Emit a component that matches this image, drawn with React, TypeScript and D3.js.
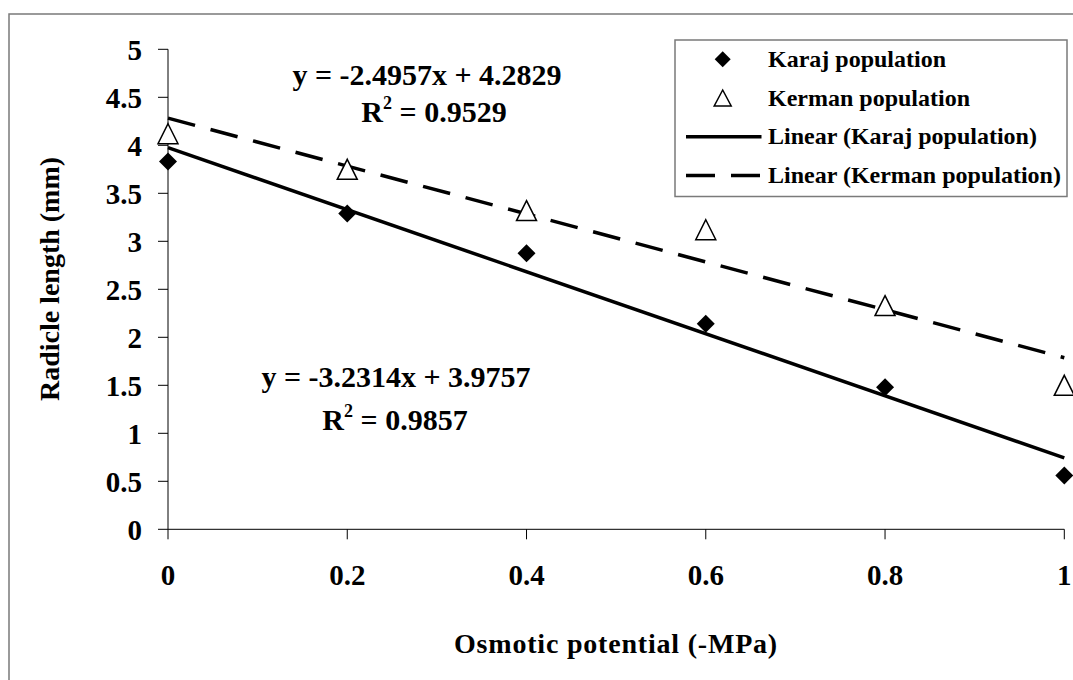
import * as d3 from 'd3'
import React from 'react'

// osmotic potential (-MPa)
const potentials = [0, 0.2, 0.4, 0.6, 0.8, 1]
// radicle length (mm)
const karaj = [3.83, 3.29, 2.875, 2.14, 1.48, 0.56]
const kerman = [4.12, 3.75, 3.32, 3.12, 2.33, 1.5]

// linear trendlines [slope, intercept]
const karajFit = [-3.2314, 3.9757]
const kermanFit = [-2.4957, 4.2829]
const karajR2 = '0.9857'
const kermanR2 = '0.9529'

const yTicks = [0, 0.5, 1, 1.5, 2, 2.5, 3, 3.5, 4, 4.5, 5]
const xTicks = [0, 0.2, 0.4, 0.6, 0.8, 1]

const legendItems = ['Karaj population', 'Kerman population', 'Linear (Karaj population)', 'Linear (Kerman population)']

const FONT = '"Liberation Serif", "Times New Roman", serif'

const diamond = (r: number) => `M0,${-r}L${r},0L0,${r}L${-r},0Z`
const triangle = (w: number, h: number) => `M0,${-h / 2}L${w / 2},${h / 2}L${-w / 2},${h / 2}Z`

export default function App() {
    const x = d3.scaleLinear().domain([0, 1]).range([168, 1064.3])
    const y = d3.scaleLinear().domain([0, 5]).range([529.3, 49.3])

    const fitLine = (fit: number[]) =>
        d3.line<number>()
            .x(d => x(d))
            .y(d => y(fit[0] * d + fit[1]))([0, 1]) as string

    const fmt = d3.format('')

    const eq = (fit: number[]) =>
        `y = ${fit[0]}x + ${fit[1]}`

    return (
        <svg width={1073} height={680}
            style={{ position: 'absolute', left: 0, top: 0, background: '#fff' }}
            fontFamily={FONT} fontWeight="bold">
            {/* chart frame */}
            <rect x={9} y={14} width={1100} height={700} fill="none" stroke="#7a7a7a" strokeWidth={1.5} />

            {/* axes */}
            <line x1={x(0)} x2={x(1)} y1={y(0)} y2={y(0)} stroke="#000" strokeWidth={1} />
            <line x1={x(0)} x2={x(0)} y1={y(0)} y2={y(5)} stroke="#000" strokeWidth={1} />
            {yTicks.map(t => (
                <g key={'y' + t}>
                    <line x1={x(0) - 10} x2={x(0)} y1={y(t)} y2={y(t)} stroke="#000" strokeWidth={1} />
                    <text x={142} y={y(t) + 10.5} textAnchor="end" fontSize={29}>{fmt(t)}</text>
                </g>
            ))}
            {xTicks.map(t => (
                <g key={'x' + t}>
                    <line x1={x(t)} x2={x(t)} y1={y(0)} y2={y(0) + 10} stroke="#000" strokeWidth={1} />
                    <text x={x(t)} y={585} textAnchor="middle" fontSize={29}>{fmt(t)}</text>
                </g>
            ))}

            {/* axis titles */}
            <text x={616} y={653} textAnchor="middle" fontSize={28} letterSpacing={0.8}>Osmotic potential (-MPa)</text>
            <text transform="translate(59,279) rotate(-90)" textAnchor="middle" fontSize={28}>Radicle length (mm)</text>

            {/* trendlines */}
            <path d={fitLine(karajFit)} stroke="#000" strokeWidth={3.5} fill="none" />
            <path d={fitLine(kermanFit)} stroke="#000" strokeWidth={3.5} fill="none" strokeDasharray="28,16" />

            {/* points */}
            {potentials.map((p, i) => (
                <path key={'k' + i} d={diamond(9)} transform={`translate(${x(p)},${y(karaj[i])})`} fill="#000" />
            ))}
            {potentials.map((p, i) => (
                <path key={'m' + i} d={triangle(20, 20)} transform={`translate(${x(p)},${y(kerman[i])})`}
                    fill="#fff" stroke="#000" strokeWidth={1.5} />
            ))}

            {/* equations */}
            <text x={427} y={85} textAnchor="middle" fontSize={30}>{eq(kermanFit)}</text>
            <text x={434} y={122} textAnchor="middle" fontSize={30}>R<tspan fontSize={18} dy={-13}>2</tspan><tspan dy={13}> = {kermanR2}</tspan></text>
            <text x={396} y={387} textAnchor="middle" fontSize={30}>{eq(karajFit)}</text>
            <text x={395} y={430} textAnchor="middle" fontSize={30}>R<tspan fontSize={18} dy={-13}>2</tspan><tspan dy={13}> = {karajR2}</tspan></text>

            {/* legend */}
            <rect x={675} y={40} width={392} height={156.5} fill="#fff" stroke="#7a7a7a" strokeWidth={1.5} />
            {legendItems.map((label, i) => {
                const cy = 59.3 + i * 38.7
                return (
                    <g key={label}>
                        {i === 0 && <path d={diamond(8)} transform={`translate(722.7,${cy})`} fill="#000" />}
                        {i === 1 && <path d={triangle(17, 16)} transform={`translate(722.7,${cy})`} fill="#fff" stroke="#000" strokeWidth={1.5} />}
                        {i === 2 && <line x1={686} x2={761.5} y1={cy} y2={cy} stroke="#000" strokeWidth={3.5} />}
                        {i === 3 && <line x1={686} x2={761.5} y1={cy} y2={cy} stroke="#000" strokeWidth={3.5} strokeDasharray="29,16" />}
                        <text x={768} y={cy + 7.5} fontSize={24}>{label}</text>
                    </g>
                )
            })}
        </svg>
    )
}
